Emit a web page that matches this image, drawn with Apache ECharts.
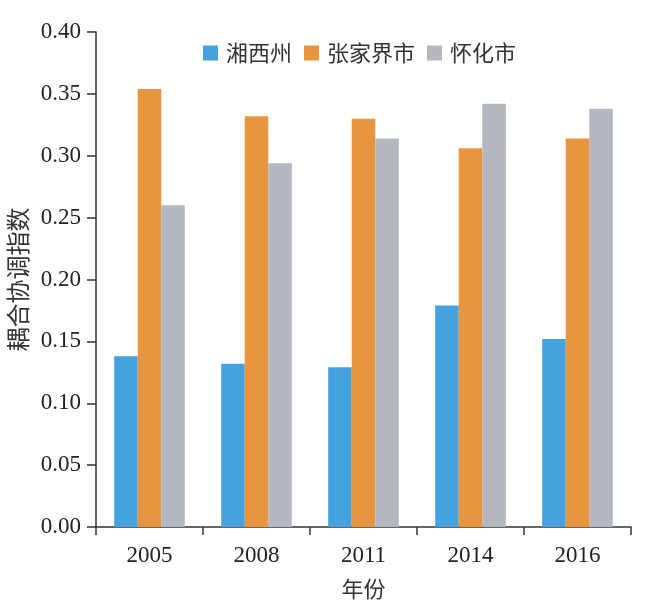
<!DOCTYPE html>
<html>
<head>
<meta charset="utf-8">
<script src="https://cdn.jsdelivr.net/npm/echarts@6/dist/echarts.min.js"></script>
<style>
html,body{margin:0;padding:0;background:#fff;}
#main{width:650px;height:614px;}
</style>
</head>
<body>
<div id="main"></div>
<script>
const categories = ['2005', '2008', '2011', '2014', '2016'];
const seriesNames = ['湘西州', '张家界市', '怀化市'];
const xiangxi = [0.138, 0.132, 0.129, 0.179, 0.152];
const zhangjiajie = [0.354, 0.332, 0.330, 0.306, 0.314];
const huaihua = [0.260, 0.294, 0.314, 0.342, 0.338];
const yTicks = [0, 0.05, 0.10, 0.15, 0.20, 0.25, 0.30, 0.35, 0.40];
const colors = ['#46a2dc', '#e8953f', '#b4b7bf'];

const chart = echarts.init(document.getElementById('main'));
const serif = '"Liberation Serif", "DejaVu Serif", serif';
const cjk = '"Noto Sans CJK SC", sans-serif';
const values = [xiangxi, zhangjiajie, huaihua];

chart.setOption({
  animation: false,
  color: colors,
  legend: {
    top: 37,
    left: 198,
    itemWidth: 15,
    itemHeight: 15,
    itemGap: 12,
    icon: 'rect',
    textStyle: { fontFamily: cjk, fontSize: 22, color: '#333', padding: [0, 0, 0, 3] },
    data: seriesNames
  },
  grid: { left: 96, right: 19, top: 32, bottom: 87, containLabel: false, outerBoundsMode: 'none' },
  xAxis: {
    type: 'category',
    data: categories,
    name: '年份',
    nameLocation: 'middle',
    nameGap: 51,
    nameTextStyle: { fontFamily: cjk, fontSize: 22, color: '#333' },
    axisLine: { lineStyle: { color: '#333', width: 1.5 } },
    axisTick: { show: true, length: 8, alignWithLabel: false, lineStyle: { color: '#333', width: 1.5 } },
    axisLabel: { fontFamily: serif, fontSize: 23, color: '#222', margin: 17 }
  },
  yAxis: {
    type: 'value',
    min: yTicks[0],
    max: yTicks[yTicks.length - 1],
    interval: 0.05,
    name: '耦合协调指数',
    nameLocation: 'middle',
    nameGap: 65,
    nameTextStyle: { fontFamily: cjk, fontSize: 24, color: '#333' },
    axisLine: { show: true, lineStyle: { color: '#333', width: 1.5 } },
    axisTick: { show: true, length: 9, lineStyle: { color: '#333', width: 1.5 } },
    splitLine: { show: false },
    axisLabel: {
      fontFamily: serif, fontSize: 23, color: '#222', margin: 15,
      formatter: v => v.toFixed(2)
    }
  },
  series: seriesNames.map((n, i) => ({
    name: n,
    type: 'bar',
    data: values[i],
    barGap: '0%',
    barCategoryGap: '34%',
    itemStyle: { color: colors[i] }
  }))
});
</script>
</body>
</html>
